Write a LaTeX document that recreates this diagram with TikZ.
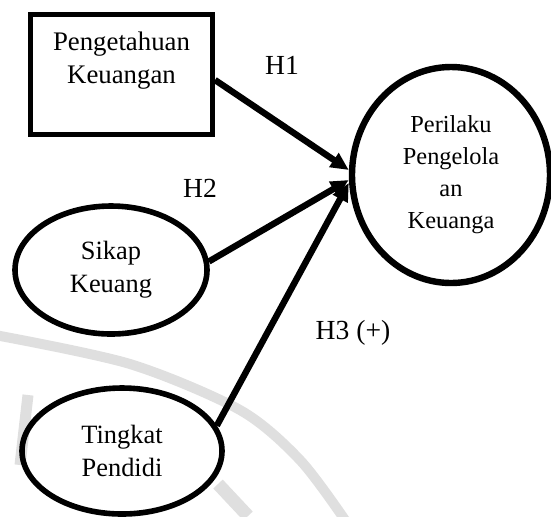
\documentclass[tikz,border=0pt]{standalone}
\usepackage{fontspec}
\setmainfont{Liberation Serif}
\usetikzlibrary{arrows.meta,positioning,shapes.geometric}

\begin{document}
\begin{tikzpicture}[x=0.5pt, y=-0.5pt,
  varbox/.style={draw, line width=2.5pt, rectangle, minimum width=91pt, minimum height=60pt, inner sep=0pt, align=center, font=\fontsize{13.4}{16.5}\selectfont},
  varoval/.style={draw, line width=2.8pt, ellipse, inner sep=0pt, align=center, font=\fontsize{13.2}{16.5}\selectfont},
  hyp/.style={line width=3.2pt, -{Triangle[length=9pt,width=8pt]}},
  hlabel/.style={font=\fontsize{13.8}{16}\selectfont}]
  \useasboundingbox (0,0) rectangle (551,516);

  % faint watermark behind the model
  \draw[gray!25, line width=5pt] plot[smooth] coordinates {(-5,335) (130,364) (240,410) (300,460) (345,520)};
  \draw[gray!25, line width=5.5pt] (28,395) -- (20,465);
  \draw[gray!25, line width=6.5pt] (218,484) -- (248,516);

  % Independent variables
  \node[varbox] (pk) at (121.5,74.5) {Pengetahuan\\Keuangan\\~};
  \node[varoval, minimum width=96pt, minimum height=64pt] (sk) at (111,270) {Sikap\\Keuang};
  \node[varoval, minimum width=100pt, minimum height=63pt] (tp) at (122,451) {Tingkat\\Pendidi};

  % Dependent variable
  \node[varoval, line width=3.2pt, minimum width=99pt, minimum height=108pt, font=\fontsize{12.2}{16}\selectfont] (plk) at (451,175) {Perilaku\\Pengelola\\an\\Keuanga};

  % Hypotheses
  \draw[hyp] ([yshift=-2.75pt]pk.east) -- ([yshift=2.5pt]plk.west);
  \draw[hyp] (sk.5) -- ([yshift=-2.5pt]plk.west);
  \draw[hyp] (tp.15) -- ([yshift=-4pt]plk.west);

  \node[hlabel] (h1) at (282,65) {H1};
  \node[hlabel] (h2) at (200,188) {H2};
  \node[hlabel] (h3) at (353,333) {H3 (+)};
\end{tikzpicture}
\end{document}
